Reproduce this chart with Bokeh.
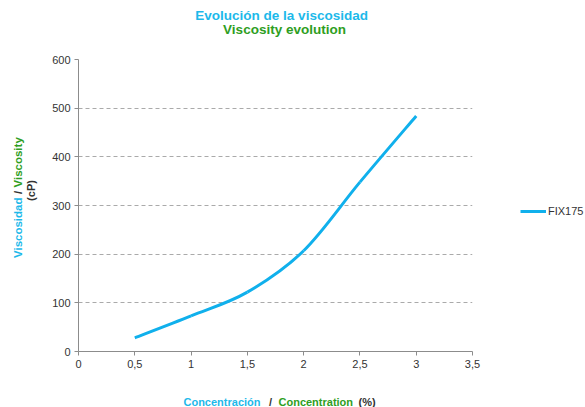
import numpy as np
from bokeh.plotting import figure
from bokeh.layouts import row, column
from bokeh.models import Label, Legend, LegendItem, FixedTicker, Range1d, CustomJSTickFormatter
from bokeh.embed import file_html
from bokeh.resources import INLINE

# data
conc = [0.5, 1.0, 1.5, 2.0, 2.5, 3.0]
visc = [28, 73, 122, 207, 348, 484]
series_name = "FIX175"
x_ticks = [0, 0.5, 1, 1.5, 2, 2.5, 3, 3.5]
y_ticks = [0, 100, 200, 300, 400, 500, 600]

CYAN = "#1DB9EA"
GREEN = "#2E9E22"
LINE = "#10B0EC"
DARK = "#333333"
FONT = "Liberation Sans"

# ---------------- main plot ----------------
p = figure(width=460, height=340, output_backend="svg", toolbar_location=None,
           x_range=Range1d(0, 3.5), y_range=Range1d(0, 600),
           min_border_left=38, min_border_right=28, min_border_top=19, min_border_bottom=29)
p.outline_line_color = None
p.background_fill_color = "white"
p.border_fill_color = "white"

# smoothed curve (Bezier control points derived from the data)
P = np.array(list(zip(conc, visc)), dtype=float)
n = len(P)
x0, y0, x1, y1, cx0, cy0, cx1, cy1 = [], [], [], [], [], [], [], []
for i in range(n - 1):
    pm = P[i - 1] if i > 0 else P[i]
    pa, pb = P[i], P[i + 1]
    pn = P[i + 2] if i + 2 < n else P[i + 1]
    c0 = pa + (pb - pm) / 6.0
    c1 = pb - (pn - pa) / 6.0
    x0.append(pa[0]); y0.append(pa[1]); x1.append(pb[0]); y1.append(pb[1])
    cx0.append(c0[0]); cy0.append(c0[1]); cx1.append(c1[0]); cy1.append(c1[1])
p.bezier(x0=x0, y0=y0, x1=x1, y1=y1, cx0=cx0, cy0=cy0, cx1=cx1, cy1=cy1,
         line_color=LINE, line_width=3)

fmt = CustomJSTickFormatter(code="return String(tick).replace('.', ',');")
for ax in (p.xaxis[0], p.yaxis[0]):
    ax.axis_line_color = "#8C8C8C"
    ax.major_tick_line_color = "#8C8C8C"
    ax.major_tick_out = 4
    ax.major_tick_in = 0
    ax.minor_tick_line_color = None
    ax.major_label_text_font = FONT
    ax.major_label_text_font_size = "11px"
    ax.major_label_text_color = DARK
    ax.formatter = fmt
p.xaxis[0].ticker = FixedTicker(ticks=x_ticks)
p.yaxis[0].ticker = FixedTicker(ticks=y_ticks)
p.xaxis[0].major_label_standoff = 4
p.yaxis[0].major_label_standoff = 4

p.xgrid.grid_line_color = None
p.ygrid.ticker = FixedTicker(ticks=y_ticks[1:])
p.ygrid.grid_line_color = "#AAAAAA"
p.ygrid.grid_line_dash = "4 3"
p.ygrid.grid_line_width = 1


# ---------------- text strips ----------------
def strip(w, h):
    f = figure(width=w, height=h, output_backend="svg", toolbar_location=None,
               x_range=Range1d(0, 1), y_range=Range1d(0, 1), min_border=0)
    f.axis.visible = False
    f.grid.visible = False
    f.outline_line_color = None
    f.background_fill_color = "white"
    f.border_fill_color = "white"
    return f


def lab(f, x, y, text, color, size="12px", align="center", angle=0.0, style="bold"):
    f.add_layout(Label(x=x, y=y, x_units="screen", y_units="screen", text=text,
                       text_color=color, text_font=FONT, text_font_size=size,
                       text_font_style=style, text_align=align, text_baseline="middle",
                       angle=angle))


# top and bottom strips share the main frame's left edge (page x = 78)
top = strip(460, 40)
lab(top, 205, 25, "Evolución de la  viscosidad", CYAN, size="13.5px")
lab(top, 206, 11, "Viscosity evolution", GREEN, size="13.5px")

bottom = strip(460, 27)
lab(bottom, 182, 6, "Concentración", CYAN, size="11px", align="right")
lab(bottom, 192, 6, "/", DARK, size="11px")
lab(bottom, 200, 6, "Concentration", GREEN, size="11px", align="left")
lab(bottom, 280, 6, "(%)", DARK, size="11px", align="left")

left = strip(40, 407)
ya = np.pi / 2
lab(left, 17, 215, "/", DARK, size="11.5px", angle=ya)
lab(left, 17, 210, "Viscosidad", CYAN, size="11.5px", align="right", angle=ya)
lab(left, 17, 220, "Viscosity", GREEN, size="11.5px", align="left", angle=ya)
lab(left, 30, 217, "(cP)", DARK, size="11px", angle=ya)

right = strip(85, 407)
lr = right.line(x=[0.2, 0.4], y=[0.5, 0.5], line_color=LINE, line_width=3, visible=False)
legend = Legend(items=[LegendItem(label=series_name, renderers=[lr])],
                location=(20, 190), background_fill_alpha=0, border_line_color=None,
                label_text_font=FONT, label_text_font_size="11px", label_text_color=DARK,
                glyph_width=26, glyph_height=12, label_standoff=2, padding=0, margin=0)
right.add_layout(legend)

layout = row(left, column(top, p, bottom, spacing=0), right, spacing=0)

open("out.html", "w").write(file_html(layout, INLINE))
